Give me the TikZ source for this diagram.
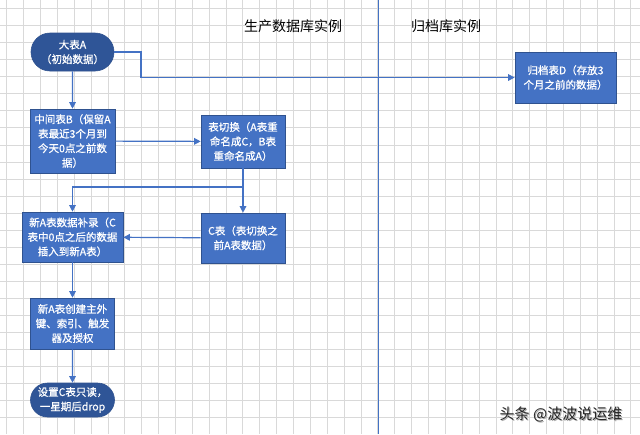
\documentclass[tikz,border=0pt]{standalone}
\usepackage{fontspec}
\setmainfont{Noto Sans CJK SC}
\newfontfamily\boxfont[FakeBold=0.8]{Noto Sans CJK SC}
\usetikzlibrary{shapes.misc,arrows.meta}
\definecolor{boxblue}{HTML}{4472C4}
\definecolor{boxedge}{HTML}{2F528F}
\definecolor{darkblue}{HTML}{2F5597}
\definecolor{gridgray}{HTML}{D9D9D9}
\begin{document}
\begin{tikzpicture}[x=1pt,y=-1pt,
  box/.style={rectangle,fill=boxblue,draw=boxedge,line width=0.6pt,text=white,
    font=\boxfont\fontsize{10.5}{14.5}\selectfont,align=center,inner sep=1pt},
  term/.style={rounded rectangle,fill=darkblue,draw=boxedge,line width=0.6pt,text=white,
    font=\boxfont\fontsize{10.5}{14.5}\selectfont,align=center,inner sep=1pt},
  arr/.style={draw=boxblue,line width=1.2pt,-{Triangle[width=6.5pt,length=6.5pt]}},
  head/.style={font=\fontsize{14}{16}\selectfont,text=black}]
\useasboundingbox (0,0) rectangle (640,434);
\fill[white] (0,0) rectangle (640,434);
% grid
\foreach \i in {0,...,37} \draw[gridgray,line width=0.8pt] ({6.7+16.87*\i},0) -- ({6.7+16.87*\i},434);
\foreach \j in {0,...,24} \draw[gridgray,line width=0.8pt] (0,{8.5+17.05*\j}) -- (640,{8.5+17.05*\j});
% divider
\draw[boxblue,line width=1.2pt] (378.3,0) -- (378.3,434);
% headers
\node[head] (h1) at (293,26) {生产数据库实例};
\node[head] (h2) at (446,26) {归档库实例};
% nodes
\node[term,minimum width=85pt,minimum height=38pt] (A) at (72.5,52) {大表A\\（初始数据）};
\node[box,minimum width=85pt,minimum height=64pt] (B) at (72.5,141) {中间表B（保留A\\表最近3个月到\\今天0点之前数\\据）};
\node[box,minimum width=84pt,minimum height=53pt] (S) at (243,141.5) {表切换（A表重\\命名成C，B表\\重命名成A）};
\node[box,minimum width=101pt,minimum height=51pt] (D) at (565.5,77.5) {归档表D（存放3\\个月之前的数据）};
\node[box,minimum width=101pt,minimum height=50pt] (N) at (72.5,237) {新A表数据补录（C\\表中0点之后的数据\\插入到新A表）};
\node[box,minimum width=84pt,minimum height=50pt] (C) at (243,238) {C表（表切换之\\前A表数据）};
\node[box,minimum width=84pt,minimum height=51pt] (K) at (72.5,323.5) {新A表创建主外\\键、索引、触发\\器及授权};
\node[term,minimum width=86pt,minimum height=34pt] (R) at (72.5,400) {设置C表只读，\\一星期后drop};
% connectors
\coordinate (ad) at (141,52);
\coordinate (br) at (243,187);
\draw[arr] (A) -- (B);
\draw[arr] (A.east) -- (ad) |- (D.west);
\draw[arr] (B) -- (S);
\draw[arr] (S) -- (C);
\draw[arr] (br) -| (N.north);
\draw[arr] (C) -- (N);
\draw[arr] (N) -- (K);
\draw[arr] (K) -- (R);
% watermark
\node[font=\fontsize{15}{17}\selectfont,text=black!35] (wms) at (562,415) {头条 @波波说运维};
\node[font=\fontsize{15}{17}\selectfont,text=black!85] (wm) at (561,414) {头条 @波波说运维};
\end{tikzpicture}
\end{document}
